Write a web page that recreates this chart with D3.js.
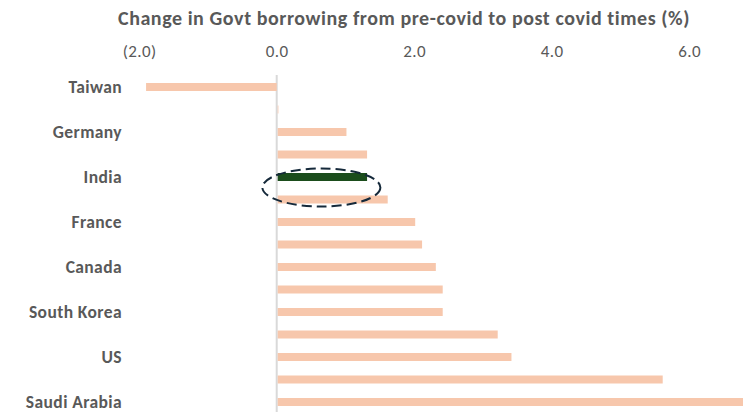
<!DOCTYPE html>
<html>
<head>
<meta charset="utf-8">
<script src="https://cdn.jsdelivr.net/npm/d3@7/dist/d3.min.js"></script>
<style>
  html, body { margin: 0; padding: 0; background: #fff; }
  svg { display: block; }
  .title { font-family: Carlito, Lato, "Open Sans", sans-serif; font-weight: 700; fill: #595959; }
  .tick text { font-family: Carlito, Lato, "Open Sans", sans-serif; fill: #595959; }
  .cat { font-family: Carlito, Lato, "Open Sans", sans-serif; font-weight: 700; fill: #595959; }
</style>
</head>
<body>
<div id="chart"></div>
<script>
// Change in government borrowing, pre-covid to post-covid (percentage points)
const labels = ["Taiwan", "", "Germany", "", "India", "", "France", "", "Canada", "", "South Korea", "", "US", "", "Saudi Arabia"];
const values = [-1.9, 0.01, 1.0, 1.3, 1.3, 1.6, 2.0, 2.1, 2.3, 2.4, 2.4, 3.2, 3.4, 5.6, 6.8];
const highlight = "India";
const tickValues = [-2, 0, 2, 4, 6];

const W = 743, H = 412;
const svg = d3.select("#chart").append("svg").attr("width", W).attr("height", H);

const x = d3.scaleLinear().domain([0, 6]).range([276.7, 689.2]);
const y = d3.scalePoint().domain(d3.range(labels.length)).range([87, 402]);
const barH = 8;

// Title
svg.append("text").attr("class", "title")
  .attr("x", 404).attr("y", 25)
  .attr("text-anchor", "middle")
  .style("font-size", "20px")
  .style("letter-spacing", "0.55px")
  .text("Change in Govt borrowing from pre-covid to post covid times (%)");

// Value axis along the top, negatives shown in parentheses
const fmt = v => v < 0 ? "(" + d3.format(".1f")(-v) + ")" : d3.format(".1f")(v);
const xAxis = svg.append("g")
  .attr("transform", "translate(0,57)")
  .call(d3.axisTop(x).tickValues(tickValues).tickFormat(fmt).tickSize(0).tickPadding(0));
xAxis.select(".domain").remove();
xAxis.selectAll("text").style("font-size", "17px").style("letter-spacing", "0.4px");

// Zero line
svg.append("line")
  .attr("x1", x(0)).attr("x2", x(0))
  .attr("y1", 75).attr("y2", H)
  .attr("stroke", "#d9d9d9").attr("stroke-width", 2);

// Bars
svg.append("g").selectAll("rect")
  .data(values)
  .join("rect")
  .attr("x", d => Math.min(x(0), x(d)) + (d >= 0 ? 1 : 0))
  .attr("y", (d, i) => y(i) - barH / 2)
  .attr("width", d => Math.abs(x(d) - x(0)))
  .attr("height", barH)
  .attr("fill", (d, i) => labels[i] === highlight ? "#1b4d1c" : "#f7c7ac");

// Category labels
svg.append("g").selectAll("text")
  .data(labels)
  .join("text")
  .attr("class", "cat")
  .attr("x", 122)
  .attr("y", (d, i) => y(i))
  .attr("dy", "0.36em")
  .attr("text-anchor", "end")
  .style("font-size", "17.5px")
  .style("letter-spacing", "0.4px")
  .text(d => d);

// Dashed ellipse around the highlighted bar
const hi = labels.indexOf(highlight);
svg.append("ellipse")
  .attr("cx", x(values[hi] / 2))
  .attr("cy", y(hi) + 10.5)
  .attr("rx", 59).attr("ry", 19)
  .attr("fill", "none")
  .attr("stroke", "#15293a")
  .attr("stroke-width", 2)
  .attr("stroke-dasharray", "10 5");
</script>
</body>
</html>
